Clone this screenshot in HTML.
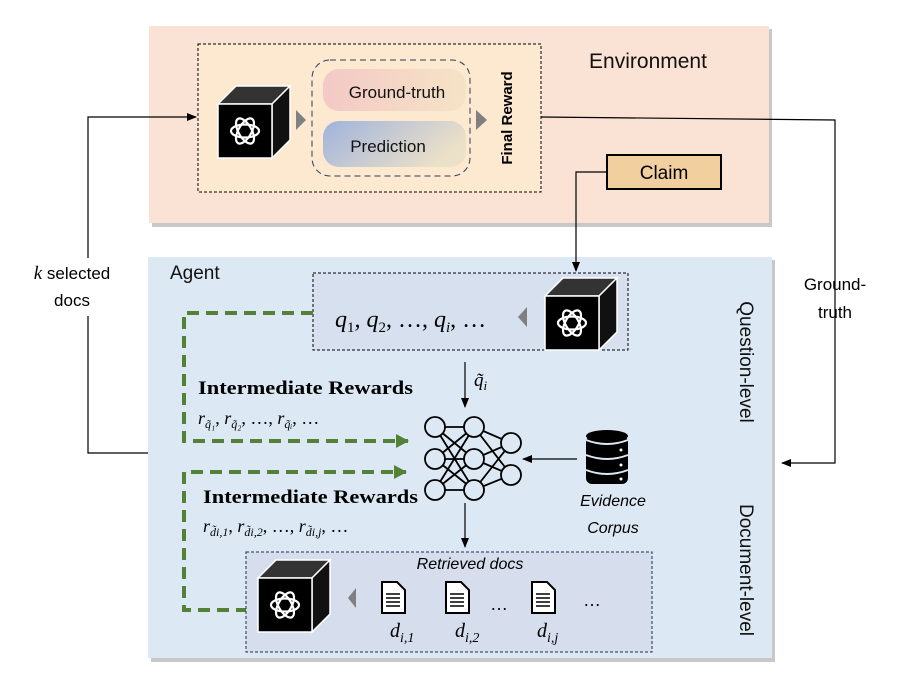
<!DOCTYPE html>
<html><head><meta charset="utf-8"><style>
body{margin:0;background:#fff}
svg{display:block;font-family:"Liberation Sans",sans-serif}
.ser{font-family:"Liberation Serif",serif}
</style></head><body>
<svg width="916" height="691" viewBox="0 0 916 691" xmlns="http://www.w3.org/2000/svg">
<defs>
<marker id="ar" markerWidth="10" markerHeight="10" refX="9" refY="5" orient="auto" markerUnits="userSpaceOnUse"><path d="M0,1 L10,5 L0,9z" fill="#000"/></marker>
<marker id="ag" markerWidth="14" markerHeight="14" refX="12" refY="7" orient="auto" markerUnits="userSpaceOnUse"><path d="M0,0 L13,7 L0,14z" fill="#538135"/></marker>
<linearGradient id="g1" x1="0" x2="1"><stop offset="0" stop-color="#f4c9c6"/><stop offset="1" stop-color="#f5e3c6"/></linearGradient>
<linearGradient id="g2" x1="0" x2="1" y1="0" y2="0.4"><stop offset="0" stop-color="#9fb3dd"/><stop offset="1" stop-color="#ebe0c8"/></linearGradient>
<g id="cube">
<path d="M0,18 L18,0 L72,0 L54,18z" fill="#333" stroke="#fff" stroke-width="1.5"/>
<path d="M54,18 L72,0 L72,54 L54,72z" fill="#111" stroke="#fff" stroke-width="1.5"/>
<rect x="0" y="18" width="54" height="54" fill="#000" stroke="#fff" stroke-width="1.5"/>
<g fill="none" stroke="#fff" stroke-width="2.2" transform="translate(27,45)">
<ellipse rx="14" ry="6.5" transform="rotate(0)"/><ellipse rx="14" ry="6.5" transform="rotate(60)"/><ellipse rx="14" ry="6.5" transform="rotate(120)"/>
</g>
</g>
</defs>

<!-- Environment -->
<rect x="152" y="29" width="620" height="198" fill="#c8c8c8"/>
<rect x="149" y="26" width="620" height="197" fill="#fae3d4"/>
<rect x="198" y="44" width="343" height="148" fill="#fde8d0" stroke="#000" stroke-dasharray="3,2"/>
<rect x="312" y="60" width="158" height="116" rx="18" fill="none" stroke="#2e3a5a" stroke-dasharray="6,4"/>
<rect x="323" y="69" width="143" height="42" rx="16" fill="url(#g1)"/>
<rect x="323" y="121" width="143" height="46" rx="16" fill="url(#g2)"/>
<text x="397" y="98" font-size="17" text-anchor="middle" fill="#111">Ground-truth</text>
<text x="388" y="152" font-size="17" text-anchor="middle" fill="#111">Prediction</text>
<use href="#cube" x="218" y="86"/>
<path d="M296,110 L306,120 L296,130z" fill="#808080"/>
<path d="M476,110 L487,120 L476,130z" fill="#808080"/>
<text transform="translate(512,118) rotate(-90)" font-size="15" font-weight="bold" text-anchor="middle">Final Reward</text>
<text x="648" y="68" font-size="21" text-anchor="middle" fill="#111">Environment</text>
<rect x="607" y="155" width="114" height="34" fill="#f1cf9e" stroke="#000" stroke-width="2"/>
<text x="664" y="179" font-size="19" text-anchor="middle">Claim</text>

<!-- Agent -->
<rect x="151" y="260" width="624" height="402" fill="#c8c8c8"/>
<rect x="148" y="257" width="624" height="401" fill="#dce9f5"/>
<text x="170" y="279" font-size="19" fill="#111">Agent</text>
<rect x="313" y="273" width="315" height="77" fill="#d7e0ee" stroke="#000" stroke-dasharray="3,2"/>
<text x="335" y="327" class="ser" font-size="24" font-style="italic">q<tspan font-size="15" dy="5" font-style="normal">1</tspan><tspan dy="-5">, q</tspan><tspan font-size="15" dy="5" font-style="normal">2</tspan><tspan dy="-5" font-style="normal">, …, </tspan><tspan>q</tspan><tspan font-size="15" dy="5">i</tspan><tspan dy="-5" font-style="normal">, …</tspan></text>
<path d="M527,307 L518,317 L527,327z" fill="#808080"/>
<use href="#cube" x="545" y="278"/>
<text transform="translate(740,362) rotate(90)" font-size="19" text-anchor="middle" fill="#111">Question-level</text>
<text transform="translate(740,570) rotate(90)" font-size="19" text-anchor="middle" fill="#111">Document-level</text>

<path d="M606,172 H576 V271" fill="none" stroke="#000" stroke-width="1.2" marker-end="url(#ar)"/>
<path d="M541,117 L835,120 V463 H782" fill="none" stroke="#000" stroke-width="1.2" marker-end="url(#ar)"/>
<text x="835" y="290" font-size="17" text-anchor="middle">Ground-</text>
<text x="835" y="318" font-size="17" text-anchor="middle">truth</text>
<path d="M148,453 H88 V117 H196" fill="none" stroke="#000" stroke-width="1.2" marker-end="url(#ar)"/>
<rect x="20" y="258" width="112" height="58" fill="#fff"/>
<text x="72" y="279" font-size="17" text-anchor="middle"><tspan class="ser" font-style="italic" font-size="19">k</tspan> selected</text>
<text x="72" y="306" font-size="17" text-anchor="middle">docs</text>

<path d="M313,313 H184 V441 H408" fill="none" stroke="#538135" stroke-width="4" stroke-dasharray="12,7" marker-end="url(#ag)"/>
<path d="M248,610 H184 V472 H406" fill="none" stroke="#538135" stroke-width="4" stroke-dasharray="12,7" marker-end="url(#ag)"/>
<text x="198" y="394" class="ser" font-size="19" font-weight="bold" textLength="215" lengthAdjust="spacingAndGlyphs">Intermediate Rewards</text>
<text x="198" y="424" class="ser" font-size="18" font-style="italic">r<tspan font-size="12" dy="4">q̃₁</tspan><tspan dy="-4" font-style="normal">, </tspan>r<tspan font-size="12" dy="4">q̃₂</tspan><tspan dy="-4" font-style="normal">, …, </tspan>r<tspan font-size="12" dy="4">q̃ᵢ</tspan><tspan dy="-4" font-style="normal">, …</tspan></text>
<text x="203" y="503" class="ser" font-size="19" font-weight="bold" textLength="215" lengthAdjust="spacingAndGlyphs">Intermediate Rewards</text>
<text x="203" y="532" class="ser" font-size="18" font-style="italic">r<tspan font-size="12" dy="4">d̃i,1</tspan><tspan dy="-4" font-style="normal">, </tspan>r<tspan font-size="12" dy="4">d̃i,2</tspan><tspan dy="-4" font-style="normal">, …, </tspan>r<tspan font-size="12" dy="4">d̃i,j</tspan><tspan dy="-4" font-style="normal">, …</tspan></text>

<path d="M465,362 V407" stroke="#000" stroke-width="1.2" marker-end="url(#ar)"/>
<text x="474" y="386" class="ser" font-size="19" font-style="italic">q̃<tspan font-size="13" dy="4">i</tspan></text>

<g stroke="#000" stroke-width="1.8" fill="none">
<path d="M435,427 L474,427 M435,427 L474,459 M435,427 L474,490 M435,459 L474,427 M435,459 L474,459 M435,459 L474,490 M435,490 L474,427 M435,490 L474,459 M435,490 L474,490 M474,427 L511,443 M474,427 L511,475 M474,459 L511,443 M474,459 L511,475 M474,490 L511,443 M474,490 L511,475"/>
<g fill="#dce9f5"><circle cx="435" cy="427" r="10"/><circle cx="435" cy="459" r="10"/><circle cx="435" cy="490" r="10"/><circle cx="474" cy="427" r="10"/><circle cx="474" cy="459" r="10"/><circle cx="474" cy="490" r="10"/><circle cx="511" cy="443" r="10"/><circle cx="511" cy="475" r="10"/></g>
</g>
<path d="M577,459 H523" stroke="#000" stroke-width="1.2" marker-end="url(#ar)"/>
<g>
<rect x="586" y="436" width="42" height="48" rx="6" fill="#000"/>
<ellipse cx="607" cy="436" rx="21" ry="6" fill="#000"/>
<path d="M586,440 Q607,448 628,440 M586,455 Q607,463 628,455 M586,470 Q607,478 628,470" stroke="#dce9f5" stroke-width="2" fill="none"/>
<circle cx="621" cy="450" r="1.5" fill="#fff"/><circle cx="621" cy="465" r="1.5" fill="#fff"/><circle cx="621" cy="479" r="1.5" fill="#fff"/>
</g>
<text x="613" y="506" font-size="16" font-style="italic" text-anchor="middle">Evidence</text>
<text x="613" y="533" font-size="16" font-style="italic" text-anchor="middle">Corpus</text>

<path d="M465,503 V547" stroke="#000" stroke-width="1.2" marker-end="url(#ar)"/>

<rect x="246" y="552" width="406" height="100" fill="#d6deed" stroke="#1f2f50" stroke-dasharray="3,2"/>
<text x="470" y="569" font-size="16" font-style="italic" text-anchor="middle">Retrieved docs</text>
<use href="#cube" x="258" y="560"/>
<path d="M356,588 L348,598 L356,608z" fill="#808080"/>
<g id="doc" fill="#fff" stroke="#000" stroke-width="2">
<path d="M382,582 H397 L405,590 V613 H382z"/>
<path d="M386,594 H400 M386,598 H400 M386,602 H400 M386,606 H400" stroke-width="1.5"/>
</g>
<use href="#doc" x="64"/>
<use href="#doc" x="150"/>
<text x="490" y="610" font-size="18">…</text>
<text x="583" y="606" font-size="18">…</text>
<text x="390" y="637" class="ser" font-size="20" font-style="italic">d<tspan font-size="14" dy="5">i,1</tspan></text>
<text x="455" y="637" class="ser" font-size="20" font-style="italic">d<tspan font-size="14" dy="5">i,2</tspan></text>
<text x="537" y="637" class="ser" font-size="20" font-style="italic">d<tspan font-size="14" dy="5">i,j</tspan></text>
</svg>
</body></html>
